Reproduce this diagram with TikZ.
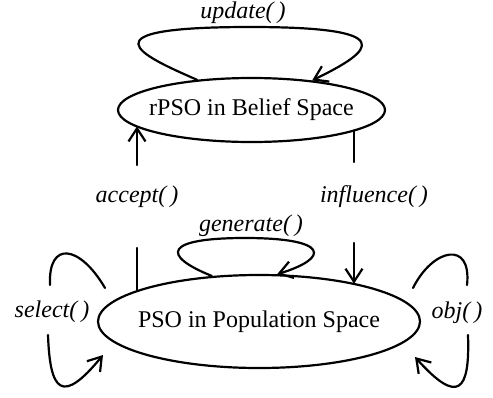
\documentclass[tikz,border=0pt]{standalone}
\usepackage{fontspec}
\setmainfont{Liberation Serif}
\usetikzlibrary{shapes.geometric}
\usetikzlibrary{arrows.meta}
\tikzstyle{myspace} = [draw=black, ellipse, line width=2.2pt, inner sep=0pt,
font=\fontsize{24}{28}\selectfont]
\tikzstyle{fnlabel} = [font=\fontsize{24}{28}\selectfont\itshape, inner sep=0pt]
\tikzstyle{myline} = [line width=2.2pt, line join=round, line cap=round]
\tikzstyle{myarrow} = [myline, -{Straight Barb[length=13pt,width=17pt]}]

\begin{document}
\begin{tikzpicture}[x=1pt,y=-1pt]
    \useasboundingbox[fill=white] (0,0) rectangle (493,397);
    % the two spaces
    \node[myspace, minimum width=267pt, minimum height=64pt] (belief) at (251.5,110)
        {\makebox[0pt]{rPSO in Belief Space}};
    \node[myspace, minimum width=322pt, minimum height=93pt] (pop) at (259,321.5)
        {\makebox[0pt]{PSO in Population Space}};
    % function labels
    \node[fnlabel] (updatelbl) at (243,13) {update(\,)};
    \node[fnlabel] (acceptlbl) at (137,197) {accept(\,)};
    \node[fnlabel] (influencelbl) at (374,197) {influence(\,)};
    \node[fnlabel] (generatelbl) at (251,226) {generate(\,)};
    \node[fnlabel] (selectlbl) at (52,312) {select(\,)};
    \node[fnlabel] (objlbl) at (457,313) {obj(\,)};
    % free ends
    \coordinate (accTop) at (137,165);
    \coordinate (accBot) at (137,248);
    \coordinate (infTop) at (354,162);
    \coordinate (infBot) at (354,243);
    \coordinate (selA) at (105,288);
    \coordinate (selB) at (50,285);
    \coordinate (selC) at (48,335);
    \coordinate (selD) at (103,355);
    \coordinate (objA) at (413,288);
    \coordinate (objB) at (467,285);
    \coordinate (objC) at (468,335);
    \coordinate (objD) at (415,357);
    % accept and influence
    \draw[myline] (accBot |- pop.166) -- (accBot);
    \draw[myarrow] (accTop) -- (accTop |- belief.188);
    \draw[myline] (infTop |- belief.349) -- (infTop);
    \draw[myarrow] (infBot) -- (infBot |- pop.21.5);
    % self loops
    \draw[myarrow] (belief.151) .. controls (140,55) and (80,27) .. (250,27)
        .. controls (400,27) and (375,50) .. (belief.26);
    \draw[myarrow] (pop.136) .. controls (160,255) and (165,238) .. (245,238)
        .. controls (330,238) and (330,258) .. (pop.69);
    \draw[myline] (selA) .. controls (80,245) and (48,240) .. (selB);
    \draw[myarrow] (selC) .. controls (50,392) and (62,405) .. (selD);
    \draw[myline] (objA) .. controls (433,248) and (472,240) .. (objB);
    \draw[myarrow] (objC) .. controls (470,392) and (458,405) .. (objD);
\end{tikzpicture}
\end{document}
